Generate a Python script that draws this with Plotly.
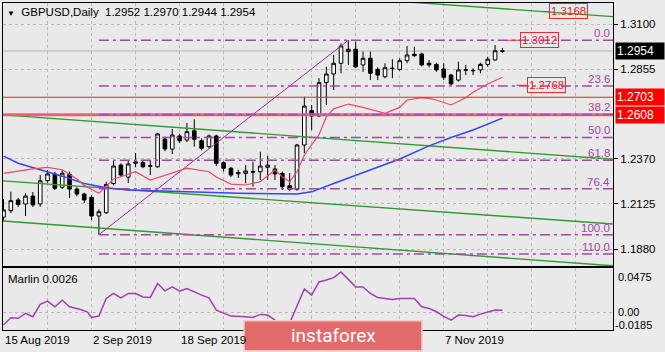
import plotly.graph_objects as go

W, H = 665, 352

# ---------------- data ----------------
bar_index = list(range(69))
opens = [1.2053, 1.2088, 1.2146, 1.2124, 1.2167, 1.2124, 1.2250, 1.2287, 1.2215, 1.2285,
         1.2205, 1.2178, 1.2160, 1.2059, 1.2077, 1.2235, 1.2335, 1.2270, 1.2345, 1.2348,
         1.2328, 1.2326, 1.2476, 1.2422, 1.2493, 1.2471, 1.2521, 1.2467, 1.2435, 1.2493,
         1.2348, 1.2318, 1.2288, 1.2290, 1.2300, 1.2299, 1.2323, 1.2314, 1.2290, 1.2223,
         1.2204, 1.2444, 1.2630, 1.2601, 1.2782, 1.2829, 1.2887, 1.2950, 1.2963, 1.2878,
         1.2914, 1.2854, 1.2814, 1.2858, 1.2854, 1.2901, 1.2936, 1.2937, 1.2887, 1.2881,
         1.2856, 1.2823, 1.2796, 1.2849, 1.2846, 1.2851, 1.2881, 1.2905, 1.2952]
highs = [1.2150, 1.2191, 1.2157, 1.2182, 1.2189, 1.2281, 1.2308, 1.2298, 1.2308, 1.2300,
         1.2215, 1.2185, 1.2170, 1.2095, 1.2245, 1.2363, 1.2345, 1.2360, 1.2400, 1.2360,
         1.2363, 1.2510, 1.2490, 1.2531, 1.2505, 1.2563, 1.2583, 1.2480, 1.2500, 1.2500,
         1.2355, 1.2325, 1.2310, 1.2335, 1.2353, 1.2408, 1.2384, 1.2335, 1.2300, 1.2292,
         1.2450, 1.2706, 1.2661, 1.2806, 1.2868, 1.2932, 1.2995, 1.3012, 1.3004, 1.2950,
         1.2950, 1.2865, 1.2887, 1.2909, 1.2914, 1.2981, 1.2977, 1.2944, 1.2905, 1.2890,
         1.2887, 1.2830, 1.2896, 1.2878, 1.2860, 1.2890, 1.2923, 1.2986, 1.2970]
lows = [1.2030, 1.2074, 1.2108, 1.2059, 1.2108, 1.2109, 1.2240, 1.2200, 1.2205, 1.2157,
        1.2165, 1.2130, 1.2037, 1.1958, 1.2070, 1.2225, 1.2270, 1.2238, 1.2325, 1.2318,
        1.2281, 1.2320, 1.2410, 1.2395, 1.2455, 1.2460, 1.2435, 1.2415, 1.2425, 1.2330,
        1.2300, 1.2270, 1.2265, 1.2236, 1.2218, 1.2254, 1.2254, 1.2254, 1.2200, 1.2196,
        1.2196, 1.2400, 1.2525, 1.2595, 1.2661, 1.2742, 1.2833, 1.2878, 1.2860, 1.2841,
        1.2796, 1.2796, 1.2806, 1.2806, 1.2845, 1.2887, 1.2923, 1.2870, 1.2865, 1.2841,
        1.2796, 1.2768, 1.2787, 1.2823, 1.2823, 1.2833, 1.2868, 1.2901, 1.2944]
closes = [1.2092, 1.2142, 1.2122, 1.2167, 1.2119, 1.2250, 1.2287, 1.2209, 1.2291, 1.2205,
          1.2178, 1.2146, 1.2059, 1.2082, 1.2230, 1.2330, 1.2281, 1.2341, 1.2352, 1.2326,
          1.2332, 1.2504, 1.2422, 1.2498, 1.2467, 1.2516, 1.2475, 1.2426, 1.2493, 1.2345,
          1.2318, 1.2281, 1.2294, 1.2303, 1.2297, 1.2330, 1.2335, 1.2287, 1.2218, 1.2204,
          1.2444, 1.2655, 1.2601, 1.2782, 1.2829, 1.2887, 1.2981, 1.2963, 1.2868, 1.2914,
          1.2833, 1.2823, 1.2863, 1.2860, 1.2901, 1.2932, 1.2928, 1.2878, 1.2878, 1.2851,
          1.2811, 1.2775, 1.2851, 1.2852, 1.2848, 1.2881, 1.2909, 1.2955, 1.2954]

# date labels visible in the picture (the ones at bars 36 and 48 are hidden by the watermark)
date_tick_index = [0, 12, 24, 60]
date_labels = ["15 Aug 2019", "2 Sep 2019", "18 Sep 2019", "7 Nov 2019"]

red_ma_index = [0, 4, 6, 8, 10, 11, 13, 15, 16, 18, 20, 22, 25, 28, 29, 31, 33, 35, 37, 38, 39,
                40, 41, 43, 44, 45, 47, 49, 52, 54, 55, 57, 58, 59, 61, 63, 64, 66, 68]
red_ma_value = [1.2290, 1.2315, 1.2323, 1.2310, 1.2260, 1.2225, 1.2182, 1.2260, 1.2272, 1.2299,
                1.2254, 1.2281, 1.2318, 1.2299, 1.2270, 1.2232, 1.2227, 1.2245, 1.2308, 1.2272,
                1.2245, 1.2299, 1.2390, 1.2500, 1.2597, 1.2640, 1.2666, 1.2648, 1.2616, 1.2648,
                1.2688, 1.2700, 1.2697, 1.2688, 1.2661, 1.2700, 1.2730, 1.2775, 1.2811]

blue_ma_index = [0, 2, 5, 8, 11, 14, 17, 24, 32, 40, 42, 45, 50, 54, 58, 61, 64, 68]
blue_ma_value = [1.2384, 1.2345, 1.2310, 1.2275, 1.2235, 1.2212, 1.2200, 1.2192, 1.2182, 1.2178,
                 1.2190, 1.2235, 1.2310, 1.2368, 1.2439, 1.2485, 1.2525, 1.2590]

marlin_index = [0, 1, 2, 3, 4, 5, 6, 7, 8, 9, 10.5, 11.4, 12, 13, 14, 15, 16, 17, 18, 19, 20, 21,
                22, 23, 24, 25, 27, 28, 29, 31, 33, 34, 35, 36, 37, 38, 39, 40, 41, 42, 43, 44,
                45, 46, 47, 48, 49, 50, 51, 53, 54, 56, 57, 58, 59, 60, 61, 62, 63, 64, 65, 66, 67, 68]
marlin_value = [-0.0132, -0.0054, -0.0060, -0.0007, -0.0043, 0.0089, 0.0124, 0.0063, 0.0134, 0.0063,
                0.0035, 0.0010, -0.0050, -0.0036, 0.0152, 0.0206, 0.0159, 0.0206, 0.0206, 0.0169,
                0.0163, 0.0312, 0.0233, 0.0276, 0.0230, 0.0259, 0.0188, 0.0159, 0.0028, -0.0036,
                -0.0043, -0.0050, -0.0018, -0.0025, -0.0079, -0.0120, -0.0110, 0.0072, 0.0255, 0.0188,
                0.0329, 0.0350, 0.0375, 0.0436, 0.0356, 0.0276, 0.0276, 0.0206, 0.0163, 0.0142,
                0.0152, 0.0152, 0.0063, 0.0046, 0.0010, -0.0040, -0.0079, -0.0025, -0.0030, -0.0043,
                -0.0015, 0.0003, 0.0028, 0.0026]
marlin_last = "0.0026"

fib_low_index, fib_low = 13, 1.1958
fib_high_index, fib_high = 47, 1.3012
fib_levels = [0.0, 23.6, 38.2, 50.0, 61.8, 76.4, 100.0, 110.0]
fib_texts = ["0.0", "23.6", "38.2", "50.0", "61.8", "76.4", "100.0", "110.0"]

support_lines = [1.2703, 1.2608]
current_price = 1.2954
ohlc_title = "GBPUSD,Daily\u00a0\u00a01.2952 1.2970 1.2944 1.2954"

# channel lines: two anchor points each (bar index, price)
channel_lines = [
    [(56.7, 1.3215), (83.05, 1.3140)],
    [(0.0, 1.2607), (83.05, 1.2367)],
    [(0.0, 1.2249), (83.05, 1.2016)],
    [(0.0, 1.2032), (83.05, 1.1789)],
]

price_label_values = [1.3168, 1.3012, 1.2768]
price_label_index = [74.3, 70.4, 71.3]
price_label_line_from = [73.5, 68.8, 69.9]

price_ticks = [1.3100, 1.2855, 1.2370, 1.2125, 1.1880]
price_tick_text = ["1.3100", "1.2855", "1.2370", "1.2125", "1.1880"]
marlin_range = [-0.0185, 0.0475]
marlin_axis_text = ["0.0475", "0.00", "-0.0185"]

# ---------------- layout geometry ----------------
X0, X1 = -0.07, 83.07
Y_MAIN = [1.17879, 1.32139]
FONT = "Liberation Sans, Arial, sans-serif"
FS = 11.5
FIB_COLOR = "#a445a8"


def px(x):
    return x / W


def py(y):
    return 1 - y / H


fig = go.Figure()

# channel lines
for (xa, ya), (xb, yb) in channel_lines:
    slope = (yb - ya) / (xb - xa)
    fig.add_trace(go.Scatter(x=[X0, X1], y=[ya + slope * (X0 - xa), ya + slope * (X1 - xa)],
                             mode="lines", line=dict(color="#2f9a2f", width=1.4),
                             hoverinfo="skip", showlegend=False, xaxis="x", yaxis="y"))

# fib diagonal
fig.add_trace(go.Scatter(x=[fib_low_index, fib_high_index], y=[fib_low, fib_high], mode="lines",
                         line=dict(color="#9a2aa6", width=1), hoverinfo="skip", showlegend=False))

# moving averages
fig.add_trace(go.Scatter(x=blue_ma_index, y=blue_ma_value, mode="lines",
                         line=dict(color="#3547ee", width=1.5), hoverinfo="skip", showlegend=False))
fig.add_trace(go.Scatter(x=red_ma_index, y=red_ma_value, mode="lines",
                         line=dict(color="#e8486a", width=1.2), hoverinfo="skip", showlegend=False))

# candles
fig.add_trace(go.Candlestick(x=bar_index, open=opens, high=highs, low=lows, close=closes,
                             increasing=dict(line=dict(color="black", width=1), fillcolor="white"),
                             decreasing=dict(line=dict(color="black", width=1), fillcolor="black"),
                             whiskerwidth=0, showlegend=False, hoverinfo="skip",
                             xaxis="x", yaxis="y"))

# marlin
fig.add_trace(go.Scatter(x=marlin_index, y=marlin_value, mode="lines",
                         line=dict(color="#a040b2", width=1.5), hoverinfo="skip",
                         showlegend=False, xaxis="x2", yaxis="y2"))

shapes = []
shapes.append(dict(type="line", xref="x domain", yref="y", x0=0, x1=1, y0=current_price,
                   y1=current_price, line=dict(color="#c4c4c4", width=1.5), layer="below"))
shapes.append(dict(type="line", xref="x domain", yref="y", x0=0, x1=1, y0=support_lines[0],
                   y1=support_lines[0], line=dict(color="#e8202a", width=1.2), layer="above"))
shapes.append(dict(type="line", xref="x domain", yref="y", x0=0, x1=1, y0=support_lines[1],
                   y1=support_lines[1], line=dict(color="#f0606c", width=3), layer="above"))

annotations = []
rng = fib_high - fib_low
for lvl, txt in zip(fib_levels, fib_texts):
    yv = fib_high - rng * lvl / 100.0
    shapes.append(dict(type="line", xref="x", yref="y", x0=fib_low_index, x1=X1, y0=yv, y1=yv,
                       line=dict(color=FIB_COLOR, width=1.5, dash="10px,4px,3px,4px"), layer="above"))
    annotations.append(dict(xref="paper", yref="y", x=px(611.5), y=yv, xanchor="right",
                            yanchor="bottom", yshift=-1, text=txt, showarrow=False,
                            font=dict(family=FONT, size=FS, color=FIB_COLOR)))

# price labels in chart
for val, xi, xl in zip(price_label_values, price_label_index, price_label_line_from):
    shapes.append(dict(type="line", xref="x", yref="y", x0=xl, x1=xi, y0=val, y1=val,
                       line=dict(color="#ee2a2a", width=1), layer="above"))
    annotations.append(dict(xref="x", yref="y", x=xi, y=val, xanchor="left", yanchor="middle",
                            text=f"{val:.4f}", showarrow=False, borderpad=1,
                            bordercolor="#ee2a2a", borderwidth=1,
                            font=dict(family=FONT, size=FS, color="#e41e1e")))

# right side highlighted labels
for val, bg in [(current_price, "black"), (support_lines[0], "#ff0000"), (support_lines[1], "#ff0000")]:
    annotations.append(dict(xref="paper", yref="y", x=px(615), y=val, xanchor="left",
                            yanchor="middle", text=f"{val:.4f}", showarrow=False, bgcolor=bg,
                            width=46, align="left", borderpad=1,
                            font=dict(family=FONT, size=FS + 0.5, color="white")))

annotations.append(dict(xref="paper", yref="paper", x=px(5), y=py(12), xanchor="left",
                        yanchor="middle", showarrow=False,
                        text="<span style='font-size:8px'>\u25bc</span>\u00a0\u00a0" + ohlc_title,
                        font=dict(family=FONT, size=FS, color="black")))
annotations.append(dict(xref="paper", yref="paper", x=px(6), y=py(279), xanchor="left",
                        yanchor="middle", showarrow=False, text="Marlin " + marlin_last,
                        font=dict(family=FONT, size=FS, color="black")))

# marlin axis labels
for txt, yy, xx in zip(marlin_axis_text, [276.7, 311.5, 324.5], [617, 617, 614]):
    annotations.append(dict(xref="paper", yref="paper", x=px(xx), y=py(yy), xanchor="left",
                            yanchor="middle", showarrow=False, text=txt, borderpad=0,
                            font=dict(family=FONT, size=11, color="black")))

# date labels
x_span = 610.0 / (X1 - X0)
for idx, lab in zip(date_tick_index, date_labels):
    xp = 3 + (idx - X0) * x_span
    annotations.append(dict(xref="paper", yref="paper", x=px(xp - 1), y=py(340), xanchor="left",
                            yanchor="middle", showarrow=False, text=lab,
                            font=dict(family=FONT, size=FS, color="black")))

# watermark box
shapes.append(dict(type="rect", xref="paper", yref="paper", x0=px(244), x1=px(422),
                   y0=py(350.7), y1=py(320.7), fillcolor="#e36a6a",
                   line=dict(color="#f6caca", width=1.5), layer="above"))
annotations.append(dict(xref="paper", yref="paper", x=px(333), y=py(335), xanchor="center",
                        yanchor="middle", showarrow=False, text="instaforex",
                        font=dict(family="Roboto, sans-serif", size=19, color="white")))

grid_x = list(range(6, 84, 6))
axis_common = dict(showline=True, mirror=True, linecolor="black", linewidth=1, zeroline=False,
                   fixedrange=True)

fig.update_layout(
    width=W, height=H, margin=dict(l=0, r=0, t=0, b=0),
    paper_bgcolor="#ebebeb", plot_bgcolor="#e9e9e9",
    showlegend=False,
    xaxis=dict(domain=[px(3), px(613)], range=[X0, X1], anchor="y", tickvals=grid_x,
               showticklabels=False, ticks="", showgrid=True, gridcolor="#b8b8b8",
               griddash="dot", gridwidth=1, rangeslider=dict(visible=False), **axis_common),
    yaxis=dict(domain=[py(266), py(3)], range=Y_MAIN, anchor="x", side="right",
               tickvals=price_ticks, ticktext=price_tick_text, ticks="outside", ticklen=4,
               tickcolor="black", showgrid=True, gridcolor="#b8b8b8", griddash="dot",
               tickfont=dict(family=FONT, size=FS, color="black"), **axis_common),
    xaxis2=dict(domain=[px(3), px(613)], range=[X0, X1], anchor="y2", matches="x",
                tickvals=grid_x, showticklabels=False, ticks="", showgrid=True,
                gridcolor="#b8b8b8", griddash="dot", **axis_common),
    yaxis2=dict(domain=[py(330), py(268.3)], range=marlin_range, anchor="x2", side="right",
                tickvals=[0.0], showticklabels=False, ticks="", showgrid=True,
                gridcolor="#b8b8b8", griddash="dot", **axis_common),
    shapes=shapes, annotations=annotations,
)

fig.write_html("out.html")
